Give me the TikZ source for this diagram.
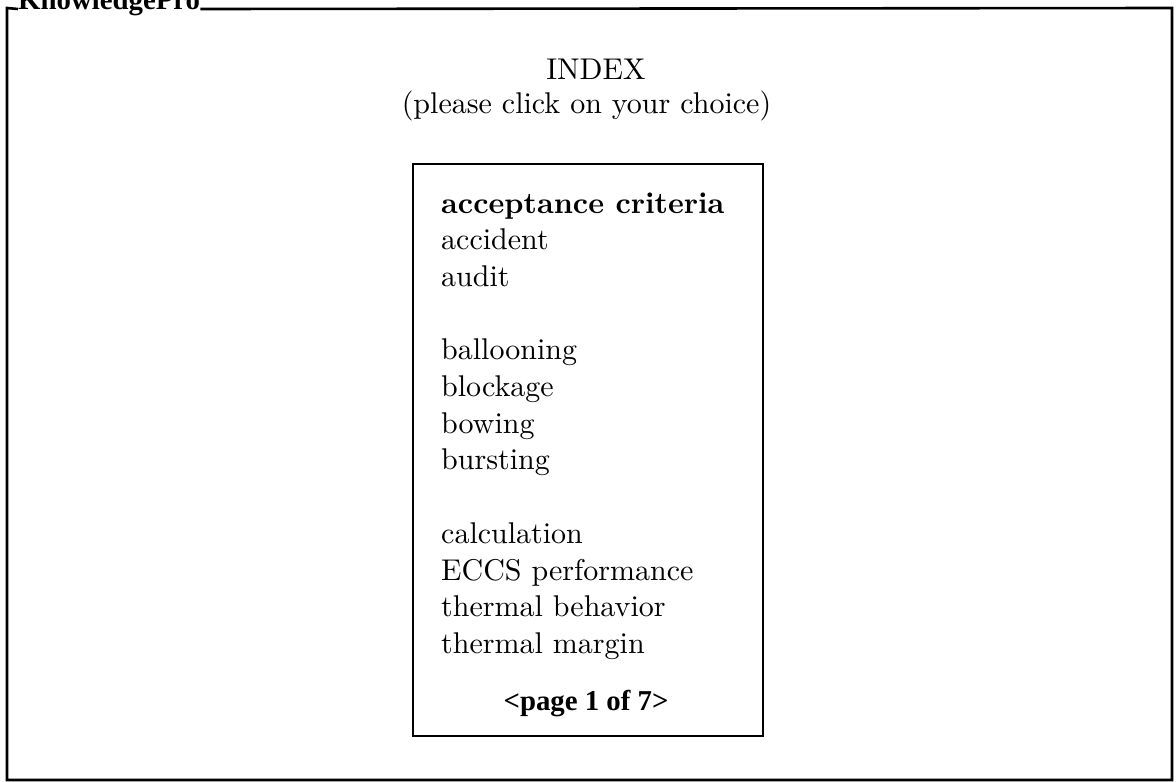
\documentclass[tikz,border=0pt]{standalone}
\usepackage{fontspec}
\setmainfont{lmroman10-regular.otf}[BoldFont=lmroman10-bold.otf]
\newfontfamily\timesfont{Liberation Serif}
\usepackage{tikz}

\begin{document}
\begin{tikzpicture}[x=1pt, y=-1pt,
    frame/.style={line width=2.6pt, line join=miter},
    listbox/.style={line width=1.8pt},
    entry/.style={anchor=base west, inner sep=0pt, font=\fontsize{30}{34}\selectfont},
    caption/.style={anchor=base, inner sep=0pt, font=\fontsize{30}{34}\selectfont},
    tmsbold/.style={inner sep=0pt, font=\timesfont\bfseries\fontsize{28.8}{34}\selectfont}]

        \useasboundingbox (0,0) rectangle (1176,782);

        % --- Window frame ---
        \coordinate (NW) at (7,8);
        \coordinate (NE) at (1172,8);
        \coordinate (SE) at (1172,780);
        \coordinate (SW) at (7,780);

        \node[tmsbold, anchor=base west] (title) at (18,9) {KnowledgePro};

        \draw[frame] (title.base east) -- (NE) -- (SE) -- (SW) -- (NW) -- (title.base west);

        % --- Heading ---
        \node[caption] (index) at (596,79) {INDEX};
        \node[caption] (hint) at (586.5,113) {(please click on your choice)};

        % --- Index list ---
        \coordinate (A) at (413,164);
        \coordinate (B) at (763,736);
        \draw[listbox] (A) rectangle (B);

        \node[entry, font=\bfseries\fontsize{30}{34}\selectfont] (e0) at (441,213) {acceptance criteria};
        \foreach \row/\word in {1/accident, 2/audit,
                                4/ballooning, 5/blockage, 6/bowing, 7/bursting,
                                9/calculation, 10/ECCS performance, 11/thermal behavior, 12/thermal margin}
            \node[entry] (e\row) at (441,213+36.7*\row) {\word};

        \node[tmsbold, anchor=base] (page) at (586,710) {<page 1 of 7>};

    \end{tikzpicture}
\end{document}
